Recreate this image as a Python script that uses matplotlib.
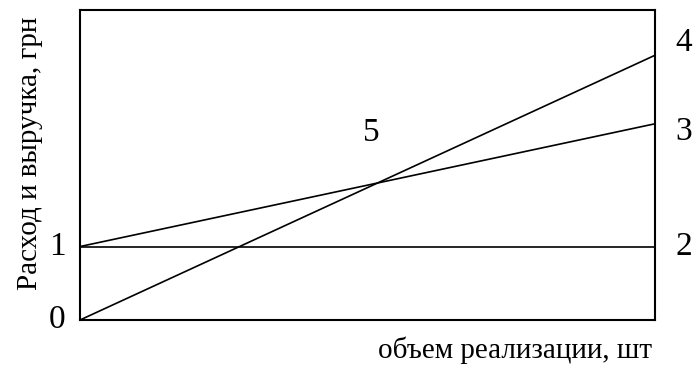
import matplotlib
matplotlib.use("Agg")
import matplotlib.pyplot as plt

# data (arbitrary units)
volume = [0, 10]
fixed_costs = [2.37, 2.37]
total_costs = [2.37, 6.33]
revenue = [0.0, 8.54]
y_max = 10

plt.rcParams['font.family'] = ['Liberation Serif', 'DejaVu Serif']

fig = plt.figure(figsize=(6.93, 3.66), dpi=100)
ax = fig.add_axes([80/693, 46/366, 575/693, 310/366])
ax.plot(volume, fixed_costs, color='black', lw=1.2)
ax.plot(volume, total_costs, color='black', lw=1.2, clip_on=False)
ax.plot(volume, revenue, color='black', lw=1.2, clip_on=False)
ax.set_xlim(volume[0], volume[-1])
ax.set_ylim(0, y_max)
ax.set_xticks([])
ax.set_yticks([])
for s in ax.spines.values():
    s.set_linewidth(1.5)

fs = 21
ds = 24
tr = ax.get_yaxis_transform()
ax.text(-0.04, fixed_costs[0], '1', ha='center', va='center', fontsize=ds, transform=tr)
ax.text(-0.04, 0, '0', ha='center', va='center', fontsize=ds, transform=tr)
ax.text(1.05, fixed_costs[-1], '2', ha='center', va='center', fontsize=ds, transform=tr)
ax.text(1.05, total_costs[-1] - 0.25, '3', ha='center', va='center', fontsize=ds, transform=tr)
ax.text(1.05, revenue[-1] + 0.4, '4', ha='center', va='center', fontsize=ds, transform=tr)
ax.text(0.506, 0.605, '5', ha='center', va='center', fontsize=ds, transform=ax.transAxes)

fig.text(30/693, 1 - 153/366, 'Расход и выручка, грн', rotation=90, ha='center', va='center', fontsize=fs)
fig.text(652/693, 1 - 350/366, 'объем реализации, шт', ha='right', va='center', fontsize=fs)

fig.savefig('out.png', dpi=100)
